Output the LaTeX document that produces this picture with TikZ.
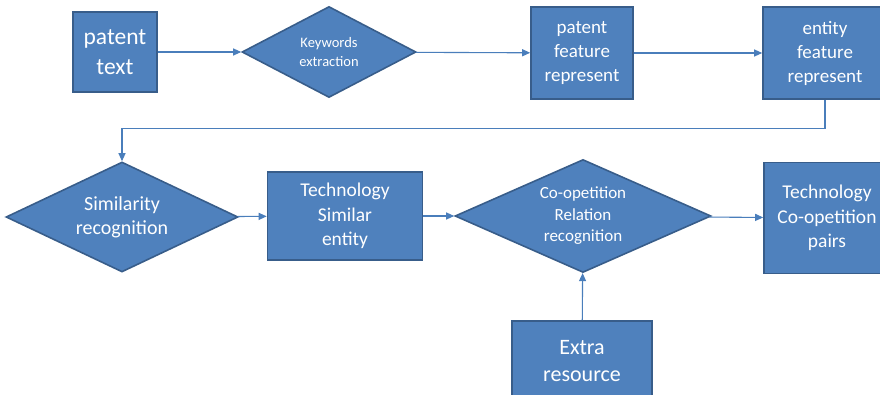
\documentclass[tikz,border=0pt]{standalone}
\usepackage{fontspec}
\setmainfont{Carlito}
\usepackage{tikz}
\usetikzlibrary{arrows.meta, positioning, shapes.geometric}
\definecolor{boxfill}{HTML}{4F81BD}
\definecolor{boxline}{HTML}{385D8A}
\definecolor{linkcol}{HTML}{4A7EBB}

\begin{document}
\begin{tikzpicture}[x=1pt, y=-1pt, -{Triangle[width=7pt,length=8pt]}]
    \tikzstyle{stage} = [draw=boxline, line width=1.6pt, fill=boxfill, text=white,
        text centered, align=center, inner sep=0pt]
    \tikzstyle{choice} = [stage, diamond, aspect=2]
    \tikzstyle{link} = [draw=linkcol, line width=1.1pt]
    \useasboundingbox (0,0) rectangle (880,395);
    \clip (0,0) rectangle (880,395);
    % top row
    \node [stage, minimum width=84pt, minimum height=80pt, font=\fontsize{23.5}{30}\selectfont]
        at (115,52) (ptext) {patent\\text};
    \node [choice, minimum width=174pt, minimum height=91pt, font=\fontsize{14.5}{18.5}\selectfont]
        at (329,52) (keywords) {Keywords\\extraction};
    \node [stage, minimum width=102pt, minimum height=92pt, font=\fontsize{19}{24}\selectfont]
        at (582,53) (pfeature) {patent\\feature\\represent};
    \node [stage, minimum width=124pt, minimum height=92pt, font=\fontsize{19}{24}\selectfont]
        at (825,53) (efeature) {entity\\feature\\represent};
    % middle row
    \node [choice, minimum width=232pt, minimum height=110pt, font=\fontsize{20}{24}\selectfont]
        at (122,217) (simil) {Similarity\\recognition};
    \node [stage, minimum width=155pt, minimum height=88pt, font=\fontsize{19.5}{24.5}\selectfont]
        at (345,216) (simentity) {Technology\\Similar\\entity};
    \node [choice, minimum width=256pt, minimum height=113pt, font=\fontsize{17}{21.5}\selectfont]
        at (583,216) (coop) {Co-opetition\\Relation\\recognition};
    \node [stage, minimum width=126pt, minimum height=111pt, font=\fontsize{19.5}{24.5}\selectfont]
        at (827,218) (pairs) {Technology\\Co-opetition\\pairs};
    % bottom
    \node [stage, minimum width=140pt, minimum height=80pt, font=\fontsize{22}{27}\selectfont]
        at (582,361) (extra) {Extra\\resource};

    \draw [link] (ptext) -- (keywords);
    \draw [link] (keywords) -- (pfeature);
    \draw [link] (pfeature) -- (efeature);
    \draw [link] (efeature.south) -- ++(0,29) -| (simil.north);
    \draw [link] (simil) -- (simentity);
    \draw [link] (simentity) -- (coop);
    \draw [link] (coop) -- (pairs);
    \draw [link] (extra) -- (coop);
\end{tikzpicture}
\end{document}
